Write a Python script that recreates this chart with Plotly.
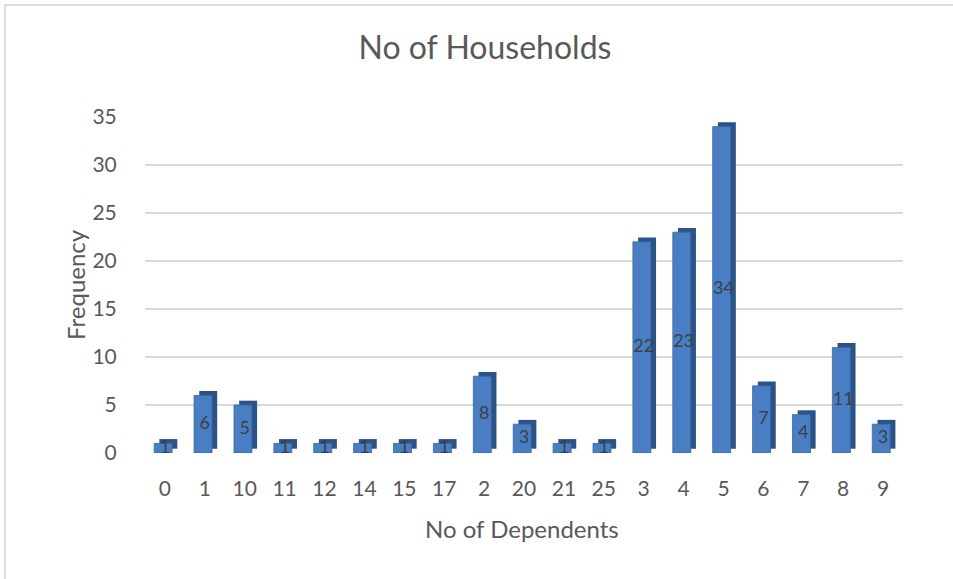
import plotly.graph_objects as go

categories = ["0", "1", "10", "11", "12", "14", "15", "17", "2", "20", "21", "25",
              "3", "4", "5", "6", "7", "8", "9"]
frequency = [1, 6, 5, 1, 1, 1, 1, 1, 8, 3, 1, 1, 22, 23, 34, 7, 4, 11, 3]
y_ticks = [0, 5, 10, 15, 20, 25, 30, 35]

W, H = 953, 579
ML, MR, MT, MB = 145, 50, 117, 126
FONT = "Lato, 'Open Sans', sans-serif"
GREY = "#595959"

fig = go.Figure()
# depth (side face) trace for pseudo-3D look
fig.add_trace(go.Bar(
    x=categories, y=frequency, base=0.45,
    width=0.45, offset=-0.14,
    marker=dict(color="#2B5386", line=dict(width=0)),
    hoverinfo="skip", showlegend=False,
))
# front face
fig.add_trace(go.Bar(
    x=categories, y=frequency,
    width=0.45, offset=-0.27,
    marker=dict(color="#4A7EC2", line=dict(color="#3A66A0", width=0.8)),
    showlegend=False,
))
# data labels at bar centre
fig.add_trace(go.Scatter(
    x=categories, y=[v / 2 for v in frequency],
    mode="text", text=[str(v) for v in frequency],
    textfont=dict(family=FONT, size=18, color="#3A3F4A"),
    textposition="middle center",
    hoverinfo="skip", showlegend=False,
))

fig.update_layout(
    width=W, height=H,
    margin=dict(l=ML, r=MR, t=MT, b=MB),
    paper_bgcolor="white", plot_bgcolor="white",
    barmode="overlay",
    font=dict(family=FONT, color=GREY),
    title=dict(text="No of Households", x=485 / W, xanchor="center",
               y=1 - 48 / H, yanchor="middle",
               font=dict(family=FONT, size=32, color=GREY)),
    xaxis=dict(type="category", categoryorder="array", categoryarray=categories,
               range=[-0.5, len(categories) - 0.5],
               showgrid=False, showline=False, zeroline=False,
               ticks="outside", ticklen=0, tickcolor="white",
               ticklabelstandoff=17,
               tickfont=dict(family=FONT, size=21, color=GREY)),
    yaxis=dict(range=[0, 35], tickvals=y_ticks,
               showgrid=True, gridcolor="#D9D9D9", gridwidth=1.5,
               zeroline=False, showline=False,
               ticks="outside", ticklen=0, tickcolor="white",
               ticklabelstandoff=23,
               tickfont=dict(family=FONT, size=21, color=GREY)),
    annotations=[
        dict(text="No of Dependents", xref="paper", yref="paper",
             x=(522 - ML) / (W - ML - MR), y=-(528 - (H - MB)) / (H - MT - MB),
             xanchor="center", yanchor="middle", showarrow=False,
             font=dict(family=FONT, size=24, color=GREY)),
        dict(text="Frequency", xref="paper", yref="paper",
             x=-(ML - 75) / (W - ML - MR), y=0.5, textangle=-90,
             xanchor="center", yanchor="middle", showarrow=False,
             font=dict(family=FONT, size=24, color=GREY)),
    ],
    shapes=[
        dict(type="line", xref="paper", yref="paper",
             x0=-(ML - 5) / (W - ML - MR), x1=(W - ML) / (W - ML - MR),
             y0=1 + (MT - 5) / (H - MT - MB), y1=1 + (MT - 5) / (H - MT - MB),
             line=dict(color="#D0D0D0", width=1.5)),
        dict(type="line", xref="paper", yref="paper",
             x0=-(ML - 5) / (W - ML - MR), x1=-(ML - 5) / (W - ML - MR),
             y0=1 + (MT - 5) / (H - MT - MB), y1=-(H - MT) / (H - MT - MB),
             line=dict(color="#D0D0D0", width=1.5)),
    ],
)

fig.write_html("out.html")
